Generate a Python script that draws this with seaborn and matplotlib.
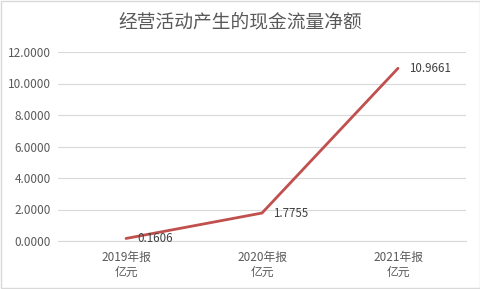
import matplotlib
matplotlib.use("Agg")
import matplotlib.pyplot as plt
import seaborn as sns
import pandas as pd
from matplotlib.patches import Rectangle

categories = ["2019年报\n亿元", "2020年报\n亿元", "2021年报\n亿元"]
values = [0.1606, 1.7755, 10.9661]
value_labels = ["0.1606", "1.7755", "10.9661"]
yticks = [0, 2, 4, 6, 8, 10, 12]
title = "经营活动产生的现金流量净额"

sns.set_theme(style="white")
plt.rcParams['font.family'] = ['Noto Sans CJK SC', 'DejaVu Sans']

df = pd.DataFrame({"x": list(range(len(categories))), "y": values})

fig = plt.figure(figsize=(4.81, 2.89), dpi=100)
ax = fig.add_axes([58/481, 1-241/289, 408/481, 189/289])
sns.lineplot(data=df, x="x", y="y", ax=ax, color="#C0504D", linewidth=2.0)

ax.set_xlim(-0.5, 2.5)
ax.set_ylim(0, 12)
ax.set_yticks(yticks)
ax.set_yticklabels([f"{v:.4f}" for v in yticks], fontsize=8.5, color="#595959")
ax.set_xticks(range(len(categories)))
ax.set_xticklabels(categories, fontsize=8.5, color="#595959", linespacing=1.2)
ax.tick_params(axis="y", length=0, pad=5)
ax.tick_params(axis="x", length=0, pad=7)
ax.set_xlabel("")
ax.set_ylabel("")
ax.grid(axis="y", color="#D9D9D9", linewidth=0.8)
ax.set_axisbelow(True)
for s in ax.spines.values():
    s.set_visible(False)
ax.spines["bottom"].set_visible(True)
ax.spines["bottom"].set_color("#D9D9D9")
ax.spines["bottom"].set_linewidth(0.8)

for i, (v, lab) in enumerate(zip(values, value_labels)):
    ax.annotate(lab, (i, v), xytext=(8, 0), textcoords="offset points",
                ha="left", va="center", fontsize=8.3, color="#404040")

fig.text(0.5, 1-22/289, title, ha="center", va="center", fontsize=13.5,
         color="#595959", fontweight="light")
fig.patches.append(Rectangle((0.002, 0.003), 0.996, 0.994, transform=fig.transFigure,
                             fill=False, edgecolor="#D9D9D9", linewidth=1))

fig.savefig("out.png", dpi=100)
